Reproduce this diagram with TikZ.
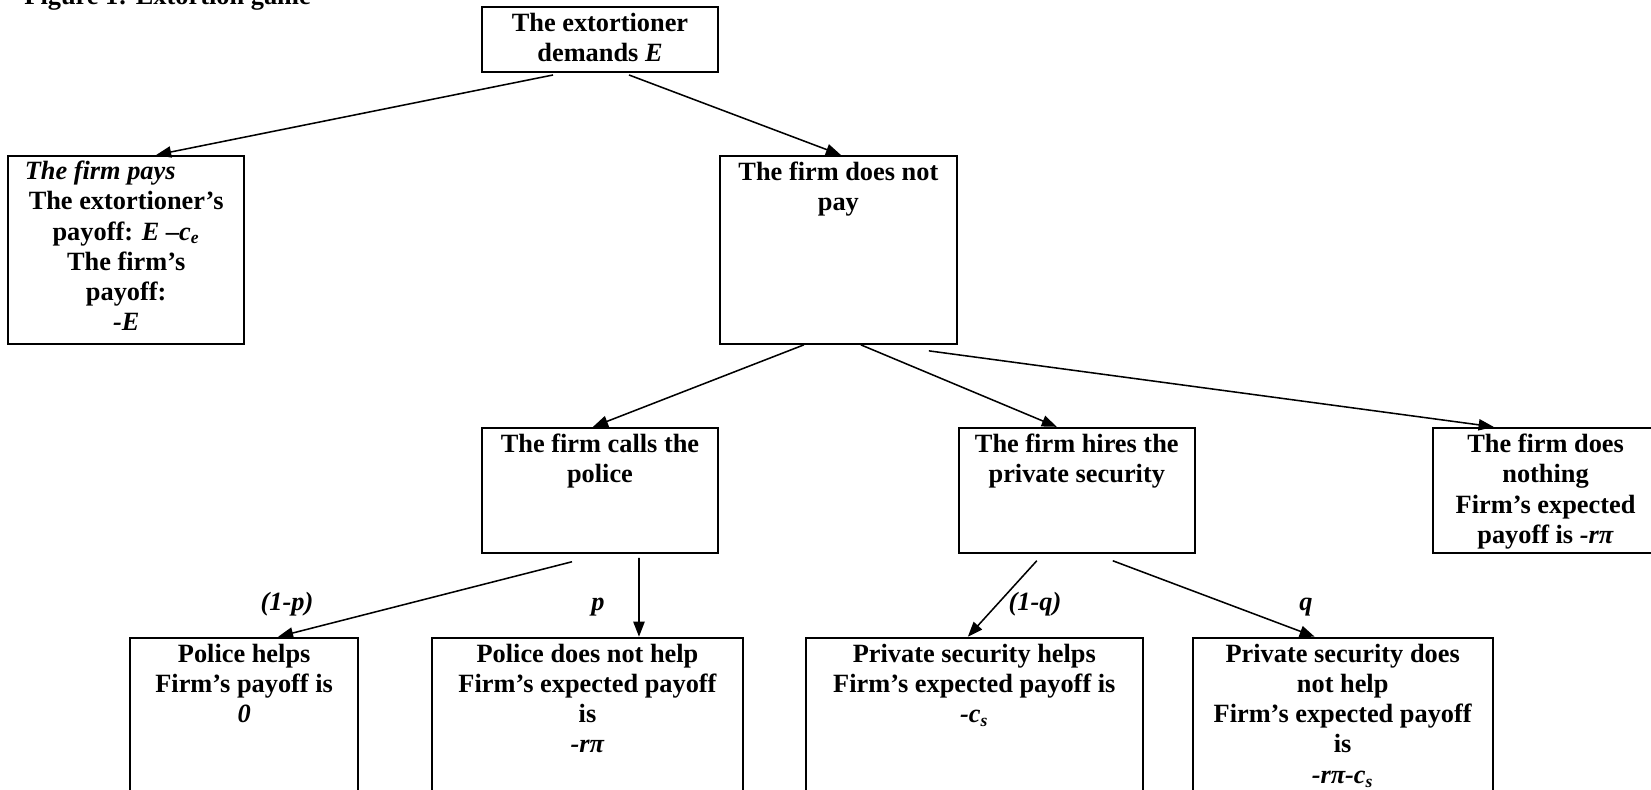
\documentclass[tikz,border=0pt]{standalone}
\usepackage{fontspec}
\setmainfont{Liberation Serif}
\usetikzlibrary{positioning}
\usetikzlibrary{arrows.meta}
\tikzset{game box/.style={draw, line width=0.9pt, inner sep=0pt},}
\tikzset{box text/.style={anchor=north, align=center, inner sep=3pt, font=\bfseries\fontsize{12}{13.8}\selectfont},}
\tikzset{prob label/.style={anchor=base, inner sep=0pt, font=\bfseries\itshape\fontsize{12}{13.8}\selectfont},}

\begin{document}
\begin{tikzpicture}[x=0.016cm, y=-0.016cm, >={Triangle[length=2.4mm,width=1.8mm]}]
     \useasboundingbox (0,0) rectangle (1651,789);
     \node[anchor=base west, inner sep=0pt, font=\bfseries\fontsize{12}{13.8}\selectfont] (title) at (24,4) {Figure 1: Extortion game};

     \node[game box, minimum width=3.776cm, minimum height=1.04cm,
           label={[box text]north:{The extortioner\\demands \textit{E}}}] (demand) at (600,39.5) {};
     \node[game box, minimum width=3.776cm, minimum height=3.008cm,
           label={[box text, inner sep=2.5pt]north:{\textit{The firm pays}\hspace*{0.832cm}\\The extortioner's\\payoff: \textit{E –c\textsubscript{e}}\\The firm's\\payoff:\\\textit{-E}}}] (pays) [below left = 1.312cm and 3.776cm of demand] {};
     \node[game box, minimum width=3.792cm, minimum height=3.008cm,
           label={[box text]north:{The firm does not\\pay}}] (notpay) [below right = 1.312cm and 0cm of demand] {};

     \node[game box, minimum width=3.776cm, minimum height=2cm,
           label={[box text]north:{The firm calls the\\police}}] (police) [below left = 1.312cm and 0cm of notpay] {};
     \node[game box, minimum width=3.776cm, minimum height=2cm,
           label={[box text]north:{The firm hires the\\private security}}] (hire) [below right = 1.312cm and 0cm of notpay] {};
     \node[game box, minimum width=3.68cm, minimum height=2cm,
           label={[box text, xshift=-0.032cm]north:{The firm does\\nothing\\Firm's expected\\payoff is \textit{-rπ}}}] (nothing) [right = 3.776cm of hire] {};

     \node[game box, minimum width=3.648cm, minimum height=2.464cm,
           label={[box text]north:{Police helps\\Firm's payoff is\\\textit{0}}}] (helps) [below left = 1.328cm and 1.952cm of police] {};
     \node[game box, minimum width=4.976cm, minimum height=2.464cm,
           label={[box text]north:{Police does not help\\Firm's expected payoff\\is\\\textit{-rπ}}}] (nohelp) [right = 1.152cm of helps] {};
     \node[game box, minimum width=5.392cm, minimum height=2.464cm,
           label={[box text]north:{Private security helps\\Firm's expected payoff is\\\textit{-c\textsubscript{s}}}}] (sechelps) [right = 0.976cm of nohelp] {};
     \node[game box, minimum width=4.8cm, minimum height=2.464cm,
           label={[box text]north:{Private security does\\not help\\Firm's expected payoff\\is\\\textit{-rπ-c\textsubscript{s}}}}] (secnohelp) [right = 0.768cm of sechelps] {};

     \node[prob label] (oneminusp) at (287,610) {(1-p)};
     \node[prob label] (pp) at (598,610) {p};
     \node[prob label] (oneminusq) at (1035,610) {(1-q)};
     \node[prob label] (qq) at (1306,610) {q};

     \path[->, line width=0.7pt]
     ([xshift=-0.752cm,yshift=-0.032cm]demand.south) edge ([xshift=0.48cm]pays.north)
     ([xshift=0.464cm,yshift=-0.032cm]demand.south) edge ([xshift=0.04cm]notpay.north)
     ([xshift=-0.552cm]notpay.south) edge ([xshift=-0.112cm]police.north)
     ([xshift=0.36cm]notpay.south) edge ([xshift=-0.32cm]hire.north)
     ([xshift=1.448cm,yshift=-0.096cm]notpay.south) edge ([xshift=-0.864cm]nothing.north)
     ([xshift=-0.448cm,yshift=-0.128cm]police.south) edge ([xshift=0.544cm]helps.north)
     ([xshift=0.624cm,yshift=-0.064cm]police.south) edge ([xshift=0.824cm]nohelp.north)
     ([xshift=-0.64cm,yshift=-0.112cm]hire.south) edge ([xshift=-0.104cm]sechelps.north)
     ([xshift=0.576cm,yshift=-0.112cm]hire.south) edge ([xshift=-0.448cm]secnohelp.north);
  \end{tikzpicture}
\end{document}
